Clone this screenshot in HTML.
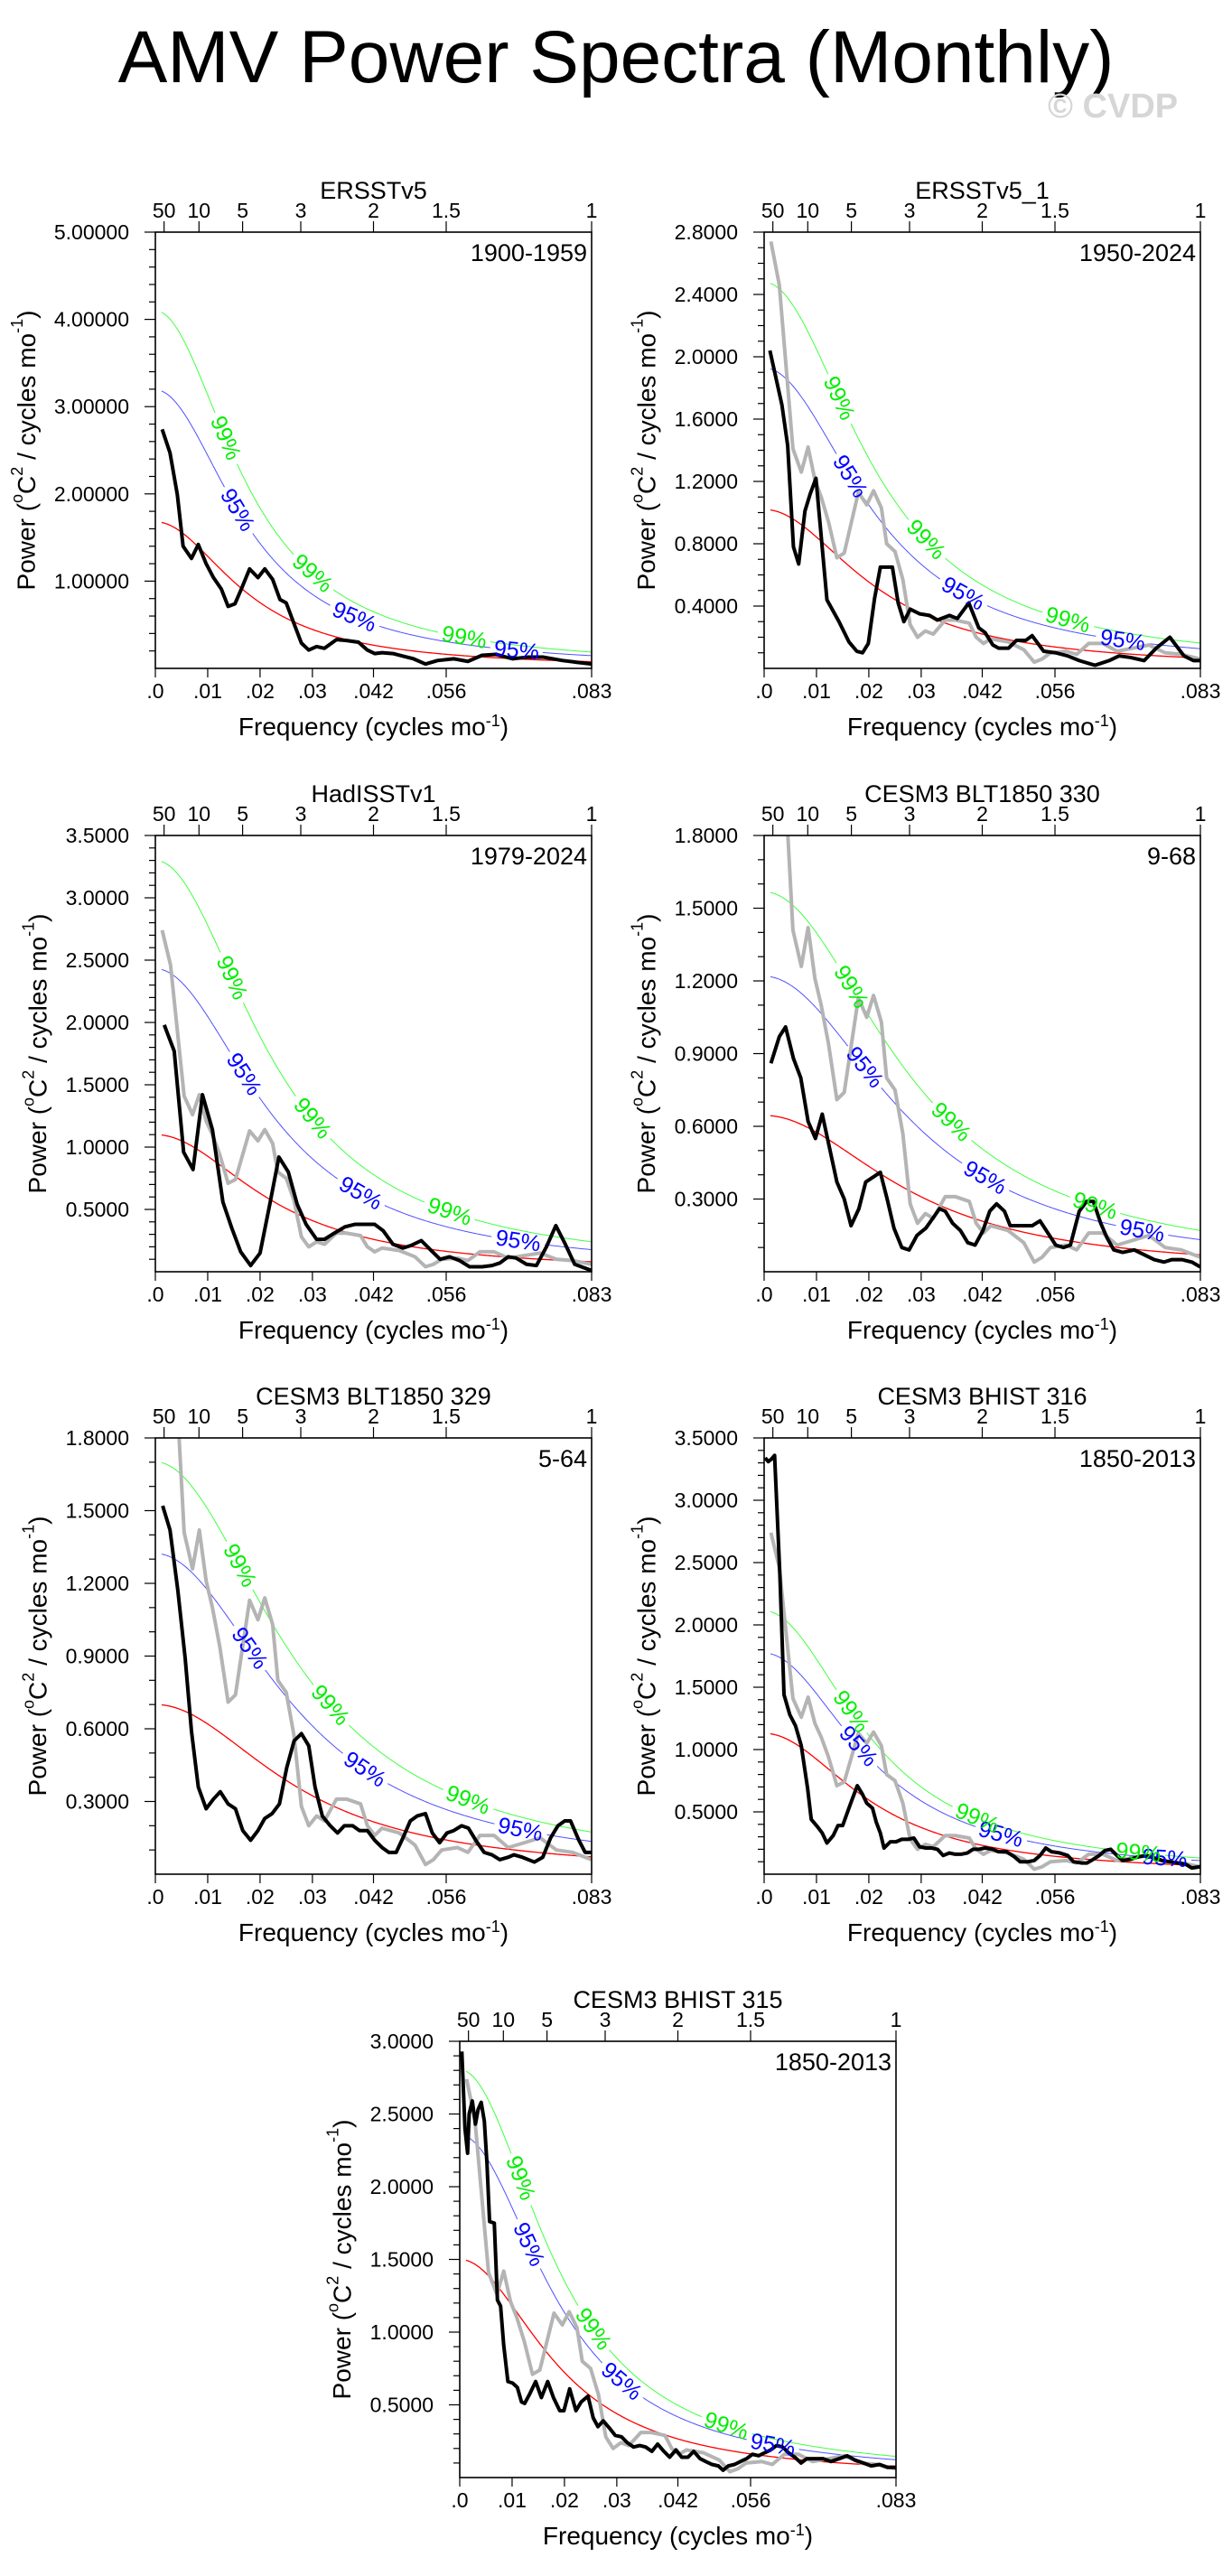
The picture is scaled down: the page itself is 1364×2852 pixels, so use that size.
<!DOCTYPE html>
<html><head><meta charset="utf-8"><title>AMV Power Spectra (Monthly)</title>
<style>
html,body{margin:0;padding:0;background:#fff;}
svg{display:block;font-family:"Liberation Sans",Arial,sans-serif;}
</style></head>
<body>
<svg id="chart" xmlns="http://www.w3.org/2000/svg" width="1364" height="2852" viewBox="0 0 1364 2852">
<rect x="0" y="0" width="1364" height="2852" fill="#fff"/>
<text x="682" y="91" font-size="82" text-anchor="middle" fill="#000">AMV Power Spectra (Monthly)</text>
<text x="1160" y="130" font-size="38" font-weight="bold" fill="#d6d6d6">© CVDP</text>
</svg>
<script>
// ---- data ----
const grayFreq = [.0013,.0029,.0055,.0071,.0084,.0097,.0109,.0123,.0139,.0153,.018,.0196,.0209,.0224,.0234,.025,.0265,.0279,.0293,.0308,.0323,.0346,.0365,.0392,.0405,.0419,.0433,.0466,.0496,.0516,.0531,.0547,.0577,.0597,.062,.0647,.0674,.0705,.0735,.0766,.0797,.0833];
const grayPower = [2.74,2.46,1.41,1.26,1.42,1.21,1.10,0.94,0.71,0.74,1.13,1.05,1.14,1.03,0.80,0.75,0.57,0.28,0.20,0.24,0.22,0.31,0.31,0.29,0.20,0.16,0.19,0.17,0.12,0.04,0.06,0.10,0.11,0.09,0.16,0.16,0.11,0.13,0.15,0.10,0.09,0.06];

const p1Freq = [.0013,.0028,.0042,.0053,.0069,.0082,.0097,.0111,.0126,.0139,.0152,.0165,.018,.0196,.0209,.0224,.0238,.025,.0265,.0279,.0293,.0308,.0323,.0346,.0365,.0388,.0405,.0419,.0433,.0454,.0473,.0493,.0516,.0539,.057,.0597,.0624,.0651,.0682,.0713,.074,.0778,.0805,.0833];
const p1Power = [2.74,2.47,1.99,1.40,1.26,1.42,1.20,1.04,0.91,0.71,0.74,0.92,1.14,1.04,1.14,1.02,0.79,0.75,0.51,0.29,0.21,0.25,0.23,0.33,0.32,0.30,0.21,0.17,0.18,0.17,0.14,0.11,0.05,0.09,0.11,0.08,0.15,0.16,0.11,0.13,0.13,0.09,0.07,0.05];

const p2Freq = [.0011,.0034,.0045,.0056,.0066,.0078,.0088,.0099,.012,.0143,.0162,.0177,.0188,.0199,.0211,.0222,.0245,.0256,.0267,.0279,.0297,.0316,.0331,.0354,.0369,.0391,.041,.0422,.0437,.0448,.0467,.0482,.05,.0512,.0534,.0557,.058,.0602,.0632,.0659,.0678,.07,.0726,.0749,.0775,.0802,.082,.0833];
const p2Power = [2.04,1.69,1.43,0.78,0.67,1.01,1.12,1.22,0.44,0.30,0.17,0.11,0.10,0.16,0.45,0.65,0.65,0.42,0.30,0.38,0.35,0.34,0.31,0.34,0.32,0.42,0.26,0.23,0.15,0.13,0.13,0.18,0.18,0.21,0.11,0.10,0.08,0.05,0.02,0.05,0.08,0.07,0.05,0.13,0.20,0.08,0.05,0.05];

const p3Freq = [.0017,.0036,.0054,.0072,.009,.0109,.0129,.0146,.0163,.0182,.02,.0219,.0236,.0254,.0271,.0288,.0308,.0323,.0342,.0362,.0381,.04,.0419,.0435,.0454,.0473,.0488,.0508,.0527,.0544,.0562,.0581,.06,.0624,.0643,.0658,.0674,.0689,.0709,.0728,.0747,.0765,.0782,.0801,.0833];
const p3Power = [1.98,1.77,0.96,0.82,1.42,1.14,0.56,0.35,0.16,0.05,0.15,0.55,0.92,0.80,0.54,0.38,0.26,0.26,0.31,0.36,0.38,0.38,0.38,0.33,0.22,0.19,0.21,0.25,0.17,0.10,0.12,0.09,0.04,0.04,0.05,0.07,0.12,0.11,0.06,0.05,0.20,0.37,0.23,0.06,0.01];

const p4Freq = [.0013,.0029,.0041,.0056,.007,.0084,.0098,.0111,.0126,.0139,.0153,.0166,.0181,.0194,.0208,.0222,.0235,.0248,.0263,.0277,.0292,.0309,.0322,.0335,.0346,.036,.0375,.0389,.0403,.0418,.0431,.0444,.0459,.047,.0486,.0512,.0527,.0542,.0557,.0572,.0585,.0602,.0616,.0629,.0643,.0655,.0668,.0685,.0707,.0726,.0745,.0764,.0779,.0798,.0817,.0833];
const p4Power = [0.86,0.97,1.01,0.88,0.80,0.62,0.55,0.65,0.50,0.37,0.30,0.19,0.26,0.37,0.39,0.41,0.30,0.18,0.10,0.09,0.15,0.18,0.22,0.26,0.25,0.20,0.17,0.12,0.11,0.17,0.25,0.28,0.25,0.19,0.19,0.19,0.21,0.16,0.11,0.10,0.11,0.25,0.29,0.29,0.20,0.14,0.09,0.08,0.09,0.07,0.05,0.04,0.05,0.05,0.04,0.02];

const p5Freq = [.0014,.0028,.0043,.0057,.0069,.0082,.0097,.0111,.0124,.0139,.0153,.0167,.0182,.0196,.0209,.0223,.0237,.0251,.0265,.0279,.0293,.0305,.0319,.0334,.0348,.0361,.0377,.039,.0405,.0419,.0433,.0446,.046,.0473,.0487,.05,.0516,.0529,.0543,.0557,.057,.0585,.0598,.0612,.0628,.0643,.0658,.0674,.0685,.0701,.0724,.074,.0755,.0769,.0782,.0793,.0809,.0821,.0833];
const p5Power = [1.52,1.42,1.17,0.89,0.59,0.36,0.27,0.31,0.34,0.29,0.27,0.18,0.14,0.18,0.23,0.25,0.29,0.44,0.55,0.58,0.53,0.36,0.24,0.20,0.17,0.20,0.20,0.18,0.18,0.14,0.11,0.09,0.09,0.15,0.22,0.24,0.25,0.17,0.13,0.17,0.18,0.20,0.19,0.14,0.09,0.08,0.06,0.07,0.08,0.07,0.05,0.07,0.15,0.20,0.22,0.22,0.14,0.09,0.09];

const p6Freq = [.0002,.0008,.0014,.002,.003,.0038,.0049,.006,.0071,.0083,.009,.0102,.0111,.012,.0132,.0141,.015,.0162,.0169,.0178,.0188,.0196,.0207,.0214,.0222,.0229,.0241,.0252,.0263,.0275,.0286,.0297,.0309,.032,.0331,.0342,.0354,.0365,.0376,.0388,.0399,.041,.0422,.0437,.0448,.0463,.0478,.0489,.0504,.0516,.0527,.0538,.0549,.0565,.058,.0591,.0606,.0617,.0629,.064,.0651,.0662,.0674,.0685,.07,.0715,.073,.0745,.076,.0775,.079,.0805,.0817,.0833];
const p6Power = [3.34,3.31,3.33,3.36,2.41,1.44,1.28,1.19,1.03,0.69,0.44,0.38,0.33,0.25,0.31,0.39,0.39,0.53,0.61,0.71,0.64,0.57,0.53,0.42,0.33,0.21,0.26,0.26,0.28,0.28,0.29,0.22,0.21,0.21,0.20,0.15,0.17,0.16,0.16,0.17,0.20,0.20,0.21,0.20,0.18,0.18,0.14,0.10,0.10,0.11,0.15,0.21,0.18,0.17,0.15,0.10,0.09,0.09,0.12,0.15,0.19,0.20,0.15,0.11,0.12,0.14,0.15,0.13,0.11,0.10,0.09,0.08,0.05,0.06];

const p7Freq = [.0004,.001,.0015,.0018,.0024,.003,.0035,.0041,.0047,.0052,.0057,.0066,.0072,.0078,.0084,.0092,.0101,.011,.0118,.0124,.0133,.0145,.0156,.0168,.0179,.0191,.0199,.021,.0222,.0232,.0245,.0255,.0264,.0274,.0286,.0297,.0309,.032,.0332,.0344,.0355,.0367,.0378,.039,.0401,.0413,.0424,.0436,.0447,.0459,.047,.0482,.0494,.0503,.0513,.0525,.0536,.0548,.0559,.0571,.0582,.0594,.0605,.0617,.0628,.064,.0652,.0663,.0678,.0694,.0709,.0725,.074,.0755,.0771,.0786,.0802,.0817,.0833];
const p7Power = [2.93,2.40,2.23,2.50,2.59,2.43,2.53,2.58,2.45,2.16,1.76,1.75,1.22,1.18,0.91,0.66,0.65,0.62,0.52,0.51,0.57,0.66,0.55,0.66,0.55,0.46,0.46,0.61,0.46,0.52,0.56,0.41,0.35,0.39,0.34,0.29,0.28,0.24,0.21,0.22,0.21,0.18,0.23,0.18,0.14,0.19,0.14,0.14,0.18,0.13,0.11,0.09,0.08,0.05,0.08,0.09,0.11,0.13,0.16,0.15,0.17,0.19,0.22,0.21,0.17,0.14,0.10,0.13,0.13,0.13,0.11,0.13,0.15,0.12,0.10,0.08,0.09,0.07,0.07];

// red-noise (AR1) fit per panel: value at f=0, lag-1 r, and significance multipliers
const redPower0 = [1.68,1.02,1.10,0.645,0.70,1.13,1.50];
const redLag1   = [0.893,0.872,0.865,0.835,0.84,0.876,0.886];
const sig95     = [1.90,1.89,2.21,1.89,1.89,1.57,1.57];
const sig99     = [2.44,2.43,3.00,2.43,2.43,1.87,1.87];
const label99Freq = [[.0134,.030,.059],[.0143,.0309,.058],[.0146,.030,.0562],[.0166,.0357,.0632],[.0161,.0334,.0597],[.0166,.0407,.0715],[.0116,.0255,.0509]];
const label95Freq = [[.0157,.038,.069],[.0164,.038,.0685],[.0169,.0392,.0693],[.0192,.0422,.0722],[.018,.040,.0697],[.018,.0452,.0765],[.0132,.0309,.0598]];

const panelTitles = ["ERSSTv5","ERSSTv5_1","HadISSTv1","CESM3 BLT1850 330","CESM3 BLT1850 329","CESM3 BHIST 316","CESM3 BHIST 315"];
const panelYears  = ["1900-1959","1950-2024","1979-2024","9-68","5-64","1850-2013","1850-2013"];
const yMaxes   = [5.0,2.8,3.5,1.8,1.8,3.5,3.0];
const yMajors  = [1.0,0.4,0.5,0.3,0.3,0.5,0.5];
const yMinors  = [0.2,0.1,0.1,0.1,0.1,0.1,0.1];
const yDecimals= [5,4,4,4,4,4,4];
const xTickVals   = [0,.01,.02,.03,1/24,1/18,1/12];
const xTickLabels = [".0",".01",".02",".03",".042",".056",".083"];
const periodVals   = [50,10,5,3,2,1.5,1];
const periodLabels = ["50","10","5","3","2","1.5","1"];

// ---- layout ----
const boxes = [[172,257],[846,257],[172,925],[846,925],[172,1592],[846,1592],[509,2260]];
const W = 483, H = 483;
const blackF = [p1Freq,p2Freq,p3Freq,p4Freq,p5Freq,p6Freq,p7Freq];
const blackP = [p1Power,p2Power,p3Power,p4Power,p5Power,p6Power,p7Power];
const NS = "http://www.w3.org/2000/svg";
const svg = document.getElementById('chart');

function mk(tag, attrs, parent) {
  const e = document.createElementNS(NS, tag);
  for (const k in attrs) e.setAttribute(k, attrs[k]);
  (parent || svg).appendChild(e);
  return e;
}

function drawPanel(i) {
  const px = boxes[i][0], py = boxes[i][1];
  const yMax = yMaxes[i];
  const X = f => px + f * 12 * W;
  const Y = v => py + H - v / yMax * H;
  const g = mk('g', {});
  
  

  const cp = mk('clipPath', {id: 'clip' + i}, g);
  mk('rect', {x: px, y: py, width: W, height: H}, cp);

  const red = f => redPower0[i] * Math.pow(1 - redLag1[i], 2) /
    (1 - 2 * redLag1[i] * Math.cos(2 * Math.PI * f) + redLag1[i] * redLag1[i]);

  const curves = [
    {fac: 1, color: '#ff0000', w: 1.3, name: 'red-noise-curve', labels: [], txt: '', tcol: ''},
    {fac: sig95[i], color: '#5050ff', w: 1, name: 'sig95-curve', labels: label95Freq[i], txt: '95%', tcol: '#0000ff'},
    {fac: sig99[i], color: '#40ff40', w: 1, name: 'sig99-curve', labels: label99Freq[i], txt: '99%', tcol: '#00ee00'}
  ];
  const labelInfo = [];
  curves.forEach(c => {
    const centers = c.labels.map(f => {
      const x1 = X(f - 0.0005), y1 = Y(red(f - 0.0005) * c.fac);
      const x2 = X(f + 0.0005), y2 = Y(red(f + 0.0005) * c.fac);
      return {x: X(f), y: Y(red(f) * c.fac), a: Math.atan2(y2 - y1, x2 - x1) * 180 / Math.PI};
    });
    let d = '', pen = false;
    for (let f = 0.0012; f <= 1 / 12 + 1e-9; f += 0.0002) {
      const x = X(f), y = Y(red(f) * c.fac);
      const near = centers.some(p => Math.hypot(p.x - x, p.y - y) < 29);
      if (near) { pen = false; continue; }
      d += (pen ? 'L' : 'M') + x.toFixed(2) + ' ' + y.toFixed(2);
      pen = true;
    }
    const p = mk('path', {d: d, fill: 'none', stroke: c.color, 'stroke-width': c.w, 'clip-path': 'url(#clip' + i + ')'}, g);
    
    
    centers.forEach(ct => labelInfo.push({ct: ct, txt: c.txt, col: c.tcol}));
  });

  if (i > 0) {
    const d = grayFreq.map((f, k) => (k ? 'L' : 'M') + X(f).toFixed(2) + ' ' + Y(grayPower[k]).toFixed(2)).join('');
    const gl = mk('path', {d: d, fill: 'none', stroke: '#b4b4b4', 'stroke-width': 4, 'stroke-linejoin': 'round', 'clip-path': 'url(#clip' + i + ')'}, g);
    
    
  }
  const bf = blackF[i], bp = blackP[i];
  const bd = bf.map((f, k) => (k ? 'L' : 'M') + X(f).toFixed(2) + ' ' + Y(bp[k]).toFixed(2)).join('');
  const bl = mk('path', {d: bd, fill: 'none', stroke: '#000', 'stroke-width': 4, 'stroke-linejoin': 'round', 'clip-path': 'url(#clip' + i + ')'}, g);
  
  

  labelInfo.forEach(L => {
    const t = mk('text', {x: L.ct.x, y: L.ct.y, 'font-size': 25, fill: L.col, 'text-anchor': 'middle', 'dominant-baseline': 'central',
      transform: 'rotate(' + L.ct.a.toFixed(1) + ' ' + L.ct.x.toFixed(1) + ' ' + L.ct.y.toFixed(1) + ')'}, g);
    t.textContent = L.txt;
    
    
  });

  const frame = mk('rect', {x: px, y: py, width: W, height: H, fill: 'none', stroke: '#000', 'stroke-width': 1.6}, g);
  
  

  // y axis
  let labelLeft = px;
  const nMinor = Math.round(yMax / yMinors[i]);
  for (let k = 1; k <= nMinor; k++) {
    const v = k * yMinors[i];
    const y = Y(v);
    const isMajor = Math.abs(v / yMajors[i] - Math.round(v / yMajors[i])) < 1e-6;
    const tk = mk('line', {x1: px - (isMajor ? 12 : 7), y1: y, x2: px, y2: y, stroke: '#000', 'stroke-width': 1.2}, g);
    
    
    if (isMajor) {
      const t = mk('text', {x: px - 29, y: y + 8, 'font-size': 23, 'text-anchor': 'end', fill: '#000'}, g);
      t.textContent = v.toFixed(yDecimals[i]);
      
      
      labelLeft = Math.min(labelLeft, t.getBBox().x);
    }
  }
  const yt = mk('text', {x: 0, y: 0, 'font-size': 28, 'text-anchor': 'middle', 'dominant-baseline': 'central', fill: '#000',
    transform: 'translate(' + (labelLeft - 31) + ' ' + (py + H / 2) + ') rotate(-90)'}, g);
  yt.innerHTML = 'Power (<tspan font-size="18" dy="-10">o</tspan><tspan dy="10">C</tspan><tspan font-size="18" dy="-10">2</tspan><tspan dy="10"> / cycles mo</tspan><tspan font-size="18" dy="-10">-1</tspan><tspan dy="10">)</tspan>';
  
  

  // bottom axis
  xTickVals.forEach((f, k) => {
    const x = X(f);
    const tk = mk('line', {x1: x, y1: py + H, x2: x, y2: py + H + 10, stroke: '#000', 'stroke-width': 1.2}, g);
    
    
    const t = mk('text', {x: x, y: py + H + 33, 'font-size': 23, 'text-anchor': 'middle', fill: '#000'}, g);
    t.textContent = xTickLabels[k];
    
    
  });
  const xt = mk('text', {x: px + W / 2, y: py + H + 74, 'font-size': 28, 'text-anchor': 'middle', fill: '#000'}, g);
  xt.innerHTML = 'Frequency (cycles mo<tspan font-size="18" dy="-10">-1</tspan><tspan dy="10">)</tspan>';
  
  

  // top period axis
  periodVals.forEach((p, k) => {
    const x = X(1 / (12 * p));
    const tk = mk('line', {x1: x, y1: py - 12, x2: x, y2: py, stroke: '#000', 'stroke-width': 1.2}, g);
    
    
    const t = mk('text', {x: x, y: py - 16, 'font-size': 23, 'text-anchor': 'middle', fill: '#000'}, g);
    t.textContent = periodLabels[k];
    
    
  });

  const tt = mk('text', {x: px + W / 2, y: py - 37, 'font-size': 27, 'text-anchor': 'middle', fill: '#000'}, g);
  tt.textContent = panelTitles[i];
  
  
  const yr = mk('text', {x: px + W - 5, y: py + 32, 'font-size': 27, 'text-anchor': 'end', fill: '#000'}, g);
  yr.textContent = panelYears[i];
  
  
}

for (let i = 0; i < 7; i++) drawPanel(i);
</script>
</body></html>
